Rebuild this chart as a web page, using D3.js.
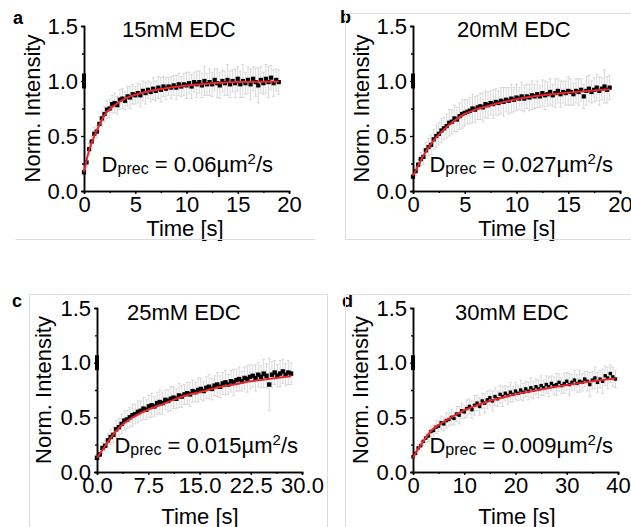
<!DOCTYPE html>
<html>
<head>
<meta charset="utf-8">
<script src="https://cdn.jsdelivr.net/npm/d3@7"></script>
<style>
  body { margin: 0; background: #fff; }
  svg { display: block; }
  text { font-family: "Liberation Sans", Arial, sans-serif; fill: #000; }
  .axis path, .axis line { stroke: #000; stroke-width: 1.3; }
  .axis text { font-size: 22px; font-family: "Liberation Sans", Arial, sans-serif; }
</style>
</head>
<body>
<div id="chart"></div>
<script>
// recovery curves, values
var panelNames = ["a", "b", "c", "d"]
var edcLabels = ["15mM EDC", "20mM EDC", "25mM EDC", "30mM EDC"]
var diffLabels = ["0.06", "0.027", "0.015", "0.009"]
var timeMax = [20, 20, 30, 40]
var timeTicks = [[0, 5, 10, 15, 20], [0, 5, 10, 15, 20], [0, 7.5, 15, 22.5, 30], [0, 10, 20, 30, 40]]
var yTicks = [0, 0.5, 1, 1.5]
var timeStep = [0.25, 0.25, 0.4, 0.5]
var preBleach = [0.95, 0.98, 1.0, 1.02, 1.05]

var valuesA = [0.17,0.26,0.38,0.45,0.52,0.54,0.61,0.66,0.70,0.74,0.75,0.79,0.80,0.78,0.83,0.84,
  0.82,0.86,0.85,0.88,0.87,0.89,0.87,0.91,0.89,0.92,0.90,0.93,0.91,0.94,0.92,0.95,0.93,0.95,0.94,0.96,
  0.94,0.97,0.95,0.97,0.96,0.98,0.95,0.99,0.97,0.99,0.96,1.00,0.97,0.99,0.97,1.01,0.98,0.96,1.00,0.98,
  1.01,0.97,1.00,0.98,1.02,0.97,1.00,0.98,1.01,0.97,1.02,0.99,0.96,1.01,0.98,1.02,0.99,1.03,0.98,1.01,0.99]
var errA = [0.03,0.04,0.05,0.05,0.06,0.06,0.07,0.07,0.07,0.08,0.08,0.08,0.09,0.08,0.09,0.09,
  0.08,0.09,0.10,0.09,0.08,0.09,0.10,0.09,0.10,0.08,0.09,0.10,0.09,0.10,0.11,0.09,0.10,0.08,0.10,0.09,
  0.11,0.10,0.09,0.10,0.12,0.10,0.11,0.09,0.12,0.10,0.11,0.13,0.10,0.12,0.11,0.10,0.13,0.12,0.10,0.11,
  0.14,0.12,0.10,0.13,0.11,0.12,0.15,0.10,0.12,0.14,0.11,0.13,0.16,0.12,0.10,0.13,0.14,0.11,0.12,0.10,0.11]
var fitTimeA = [0, 0.25, 0.5, 1, 1.5, 2, 3, 4, 5, 6, 8, 10, 12, 15, 19]
var fitA = [0.17, 0.28, 0.37, 0.50, 0.60, 0.69, 0.78, 0.84, 0.875, 0.90, 0.935, 0.96, 0.975, 0.99, 0.995]

var valuesB = [0.13,0.18,0.24,0.29,0.31,0.37,0.40,0.42,0.47,0.50,0.52,0.55,0.57,0.59,0.62,0.63,
  0.66,0.65,0.68,0.70,0.71,0.72,0.73,0.75,0.74,0.76,0.77,0.76,0.79,0.78,0.80,0.79,0.81,0.80,0.82,0.81,
  0.83,0.82,0.84,0.83,0.85,0.84,0.86,0.84,0.86,0.85,0.87,0.86,0.88,0.86,0.89,0.87,0.88,0.90,0.87,0.89,
  0.91,0.88,0.90,0.89,0.91,0.90,0.88,0.91,0.90,0.92,0.86,0.91,0.93,0.90,0.92,0.94,0.91,0.93,0.95,0.92,0.94]
var errB = [0.03,0.04,0.05,0.06,0.07,0.07,0.08,0.09,0.09,0.10,0.10,0.11,0.10,0.11,0.12,0.11,
  0.12,0.11,0.12,0.13,0.12,0.11,0.12,0.13,0.12,0.11,0.12,0.13,0.12,0.12,0.11,0.13,0.12,0.11,0.12,0.13,
  0.11,0.12,0.13,0.11,0.12,0.10,0.13,0.12,0.11,0.12,0.13,0.11,0.12,0.10,0.12,0.13,0.11,0.12,0.10,0.13,
  0.11,0.12,0.10,0.11,0.13,0.12,0.10,0.11,0.12,0.10,0.11,0.13,0.12,0.10,0.11,0.12,0.13,0.10,0.15,0.12,0.11]
var fitTimeB = [0, 0.5, 1, 2, 3, 4, 5, 6, 7.5, 10, 12.5, 15, 17, 19]
var fitB = [0.14, 0.23, 0.32, 0.46, 0.56, 0.64, 0.70, 0.74, 0.78, 0.835, 0.87, 0.895, 0.91, 0.925]

var valuesC = [0.13,0.16,0.22,0.24,0.29,0.32,0.34,0.39,0.41,0.44,0.47,0.48,0.50,0.52,0.53,0.55,
  0.56,0.58,0.57,0.60,0.61,0.60,0.63,0.64,0.63,0.66,0.65,0.67,0.68,0.67,0.70,0.69,0.71,0.72,0.71,0.74,
  0.73,0.75,0.76,0.74,0.77,0.78,0.76,0.79,0.80,0.78,0.81,0.82,0.80,0.83,0.82,0.84,0.85,0.83,0.86,0.85,
  0.87,0.88,0.86,0.89,0.87,0.90,0.88,0.80,0.89,0.91,0.88,0.90,0.92,0.89,0.91,0.90]
var errC = [0.03,0.04,0.05,0.05,0.06,0.07,0.07,0.08,0.08,0.09,0.09,0.08,0.09,0.10,0.09,0.10,
  0.09,0.10,0.09,0.10,0.11,0.09,0.10,0.11,0.10,0.09,0.10,0.11,0.10,0.09,0.11,0.10,0.09,0.10,0.11,0.10,
  0.09,0.11,0.10,0.09,0.10,0.11,0.10,0.09,0.11,0.10,0.10,0.11,0.09,0.10,0.12,0.10,0.11,0.09,0.10,0.12,
  0.11,0.10,0.12,0.11,0.10,0.13,0.11,0.24,0.12,0.11,0.10,0.12,0.11,0.10,0.11,0.10]
var fitTimeC = [0, 1, 2, 3, 5, 7.5, 10, 12.5, 15, 17.5, 20, 22.5, 25, 28.4]
var fitC = [0.13, 0.22, 0.31, 0.39, 0.49, 0.57, 0.63, 0.69, 0.73, 0.77, 0.80, 0.83, 0.85, 0.875]

var valuesD = [0.14,0.17,0.22,0.24,0.28,0.31,0.33,0.37,0.38,0.41,0.42,0.45,0.44,0.47,0.48,0.50,
  0.49,0.53,0.52,0.56,0.55,0.58,0.60,0.57,0.61,0.63,0.60,0.65,0.63,0.66,0.68,0.65,0.69,0.67,0.71,0.69,
  0.72,0.70,0.73,0.71,0.74,0.72,0.75,0.73,0.76,0.74,0.77,0.75,0.78,0.76,0.79,0.77,0.80,0.78,0.81,0.79,
  0.80,0.82,0.79,0.81,0.83,0.80,0.82,0.84,0.81,0.83,0.82,0.85,0.83,0.80,0.84,0.86,0.82,0.85,0.83,0.88,
  0.86,0.90,0.87,0.85]
var errD = [0.02,0.03,0.03,0.04,0.04,0.04,0.05,0.05,0.05,0.06,0.05,0.06,0.06,0.07,0.06,0.07,
  0.06,0.07,0.08,0.07,0.06,0.08,0.07,0.08,0.09,0.07,0.08,0.07,0.09,0.08,0.07,0.09,0.08,0.07,0.08,0.09,
  0.07,0.08,0.09,0.07,0.08,0.07,0.09,0.08,0.07,0.08,0.09,0.08,0.07,0.08,0.09,0.07,0.08,0.09,0.07,0.08,
  0.10,0.08,0.07,0.09,0.08,0.10,0.07,0.09,0.08,0.10,0.08,0.07,0.09,0.11,0.08,0.10,0.09,0.08,0.11,0.09,
  0.10,0.08,0.09,0.08]
var fitTimeD = [0, 1, 2, 3.6, 5, 7.5, 10, 12.5, 15, 20, 25, 30, 35, 39.5]
var fitD = [0.13, 0.21, 0.28, 0.38, 0.43, 0.50, 0.565, 0.61, 0.65, 0.71, 0.755, 0.795, 0.83, 0.855]

var seriesValues = [valuesA, valuesB, valuesC, valuesD]
var seriesErr = [errA, errB, errC, errD]
var fitTimes = [fitTimeA, fitTimeB, fitTimeC, fitTimeD]
var fitValues = [fitA, fitB, fitC, fitD]

// placement of each panel on the page
var panels = [
  {x0: 84, x1: 289, yTop: 26, yBot: 191, fmt: "d", minor: 2.5, sz: 4.2, titleX: 122, titleY: 37, dX: 273, dY: 172, lblX: 13, lblY: 24, yTitleX: 40, timeX: 185, timeY: 236},
  {x0: 413, x1: 620, yTop: 26, yBot: 191, fmt: "d", minor: 2.5, sz: 4.2, titleX: 457, titleY: 37, dX: 613, dY: 172, lblX: 340, lblY: 23, yTitleX: 369, timeX: 517, timeY: 236},
  {x0: 97, x1: 302, yTop: 308, yBot: 472, fmt: ".1f", minor: 3.75, sz: 4.4, titleX: 127, titleY: 320, dX: 298, dY: 453, lblX: 12, lblY: 307, yTitleX: 51, timeX: 200, timeY: 524},
  {x0: 413, x1: 618, yTop: 308, yBot: 472, fmt: "d", minor: 5, sz: 3.4, titleX: 455, titleY: 320, dX: 613, dY: 453, lblX: 342, lblY: 307, yTitleX: 368, timeX: 517, timeY: 524}
]

var frames = [
  [[15, 239], [315, 239]],
  [[345, 13], [631, 13]], [[345, 13], [345, 239]], [[345, 239], [631, 239]],
  [[29, 294], [327, 294]], [[29, 294], [29, 527]], [[327, 294], [327, 527]],
  [[345, 294], [631, 294]], [[345, 294], [345, 527]]
]

var svg = d3.select("#chart").append("svg")
  .attr("width", 631)
  .attr("height", 527)

var drawPanel = function(k) {
  var p = panels[k]
  var g = svg.append("g")

  var x = d3.scaleLinear().domain([0, timeMax[k]]).range([p.x0, p.x1])
  var y = d3.scaleLinear().domain([0, 1.5]).range([p.yBot, p.yTop])

  var pts = seriesValues[k].map(function(v, i) {
    var e = seriesErr[k][i]
    if (e === undefined) e = 0.1
    return {t: i * timeStep[k], v: v, e: e}
  })

  // error bars
  var eb = g.append("g")
    .style("stroke", "#cfcfcf")
    .style("stroke-width", 0.8)
  eb.selectAll("line.bar")
    .data(pts).enter()
    .append("line")
    .attr("x1", function(d) { return x(d.t) })
    .attr("x2", function(d) { return x(d.t) })
    .attr("y1", function(d) { return y(d.v - d.e) })
    .attr("y2", function(d) { return y(d.v + d.e) })
  ;[1, -1].forEach(function(s) {
    eb.selectAll("line.cap" + s)
      .data(pts).enter()
      .append("line")
      .attr("x1", function(d) { return x(d.t) - 1.5 })
      .attr("x2", function(d) { return x(d.t) + 1.5 })
      .attr("y1", function(d) { return y(d.v + s * d.e) })
      .attr("y2", function(d) { return y(d.v + s * d.e) })
  })

  // axes
  g.append("g")
    .attr("class", "axis")
    .attr("transform", "translate(0," + p.yBot + ")")
    .call(d3.axisBottom(x).tickValues(d3.range(0, timeMax[k] + 0.01, p.minor)).tickSize(2).tickFormat(""))
  g.append("g")
    .attr("class", "axis")
    .attr("transform", "translate(0," + p.yBot + ")")
    .call(d3.axisBottom(x).tickValues(timeTicks[k]).tickSize(3).tickPadding(2).tickFormat(d3.format(p.fmt)))
  g.append("g")
    .attr("class", "axis")
    .attr("transform", "translate(" + p.x0 + ",0)")
    .call(d3.axisLeft(y).tickValues([0.25, 0.75, 1.25]).tickSize(2).tickFormat(""))
  g.append("g")
    .attr("class", "axis")
    .attr("transform", "translate(" + p.x0 + ",0)")
    .call(d3.axisLeft(y).tickValues(yTicks).tickSize(3).tickPadding(3).tickFormat(d3.format(".1f")))
  g.selectAll(".axis .domain").style("stroke-width", 1.5)

  // pre-bleach points collapsed at t = 0
  g.selectAll("rect.pre")
    .data(preBleach).enter()
    .append("rect")
    .attr("x", x(0) - 2)
    .attr("y", function(d) { return y(d) - 2 })
    .attr("width", 4)
    .attr("height", 4)
    .style("fill", "#000")

  // data squares
  g.selectAll("rect.pt")
    .data(pts).enter()
    .append("rect")
    .attr("x", function(d) { return x(d.t) - p.sz / 2 })
    .attr("y", function(d) { return y(d.v) - p.sz / 2 })
    .attr("width", p.sz)
    .attr("height", p.sz)
    .style("fill", "#000")

  // fit
  var fit = fitTimes[k].map(function(t, i) { return [t, fitValues[k][i]] })
  g.append("path")
    .datum(fit)
    .attr("d", d3.line()
      .x(function(d) { return x(d[0]) })
      .y(function(d) { return y(d[1]) })
      .curve(d3.curveMonotoneX))
    .style("fill", "none")
    .style("stroke", "#e8262b")
    .style("stroke-width", 2)

  // texts
  g.append("text")
    .attr("x", p.titleX).attr("y", p.titleY)
    .style("font-size", "22px")
    .text(edcLabels[k])

  var dt = g.append("text")
    .attr("x", p.dX).attr("y", p.dY)
    .attr("text-anchor", "end")
    .style("font-size", "22px")
  dt.append("tspan").text("D")
  dt.append("tspan").style("font-size", "16px").attr("dy", 2).text("prec")
  dt.append("tspan").attr("dy", -2).text(" = " + diffLabels[k] + "\u00b5m")
  dt.append("tspan").style("font-size", "15px").attr("dy", -8).text("2")
  dt.append("tspan").attr("dy", 8).text("/s")

  g.append("text")
    .attr("transform", "translate(" + p.yTitleX + "," + (p.yTop + p.yBot) / 2 + ") rotate(-90)")
    .attr("text-anchor", "middle")
    .style("font-size", "22px")
    .text("Norm. Intensity")

  g.append("text")
    .attr("x", p.timeX).attr("y", p.timeY)
    .attr("text-anchor", "middle")
    .style("font-size", "22px")
    .text("Time [s]")

  g.append("text")
    .attr("x", p.lblX).attr("y", p.lblY)
    .style("font-size", "18px")
    .style("font-weight", "bold")
    .text(panelNames[k])
}

for (var k = 0; k < 4; k++) drawPanel(k)

// thin grey frames drawn last, over the axis titles as in the figure
svg.selectAll(".frame")
  .data(frames).enter()
  .append("line")
  .attr("x1", function(d) { return d[0][0] + 0.5 })
  .attr("y1", function(d) { return d[0][1] + 0.5 })
  .attr("x2", function(d) { return d[1][0] + 0.5 })
  .attr("y2", function(d) { return d[1][1] + 0.5 })
  .style("stroke", "#dcdcdc")
  .style("stroke-width", 1)
</script>
</body>
</html>
